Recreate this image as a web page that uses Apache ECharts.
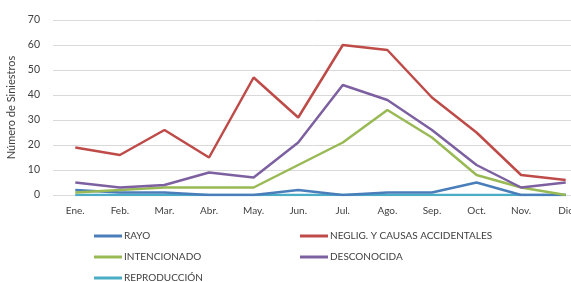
<!DOCTYPE html>
<html><head><meta charset="utf-8">
<script src="https://cdn.jsdelivr.net/npm/echarts@6/dist/echarts.min.js"></script>
<style>html,body{margin:0;padding:0;background:#fff}#c{width:571px;height:282px}</style>
</head><body><div id="c"></div>
<script>
const months = ['Ene.','Feb.','Mar.','Abr.','May.','Jun.','Jul.','Ago.','Sep.','Oct.','Nov.','Dic'];
const rayo = [2,1,1,0,0,2,0,1,1,5,0,0];
const neglig = [19,16,26,15,47,31,60,58,39,25,8,6];
const intencionado = [1,2,3,3,3,12,21,34,23,8,3,0];
const desconocida = [5,3,4,9,7,21,44,38,26,12,3,5];
const reproduccion = [0,0,0,0,0,0,0,0,0,0,0,0];
const yTicks = [0,10,20,30,40,50,60,70];

const font = 'Lato, "Open Sans", sans-serif';
const chart = echarts.init(document.getElementById('c'));
function s(name, data, color){
  return {name, type:'line', data, symbol:'none', lineStyle:{width:2.5,color}, itemStyle:{color}, animation:false};
}
const legendCommon = {orient:'vertical', itemWidth:28, itemHeight:3, itemGap:11, icon:'rect', height:70,
  textStyle:{fontFamily:font, fontSize:10, color:'#404040', padding:[0,0,0,-3]}, padding:0};
chart.setOption({
  animation:false,
  grid:{left:53, top:20, width:535, height:175, containLabel:false, outerBoundsMode:'none'},
  xAxis:{type:'category', data:months, boundaryGap:true,
    axisLine:{show:false}, axisTick:{show:false},
    axisLabel:{fontFamily:font, fontSize:10, color:'#404040', margin:11, interval:0}},
  yAxis:{type:'value', min:yTicks[0], max:yTicks[yTicks.length-1], interval:10,
    name:'Número de Siniestros', nameLocation:'middle', nameGap:29,
    nameTextStyle:{fontFamily:font, fontSize:11, color:'#404040'},
    axisLine:{show:false}, axisTick:{show:false},
    axisLabel:{fontFamily:font, fontSize:10.5, color:'#404040', margin:13},
    splitLine:{lineStyle:{color:'#D9D9D9', width:1}}},
  legend:[
    Object.assign({left:94, top:231, data:['RAYO','INTENCIONADO','REPRODUCCIÓN']}, legendCommon),
    Object.assign({left:300, top:231, data:['NEGLIG. Y CAUSAS ACCIDENTALES','DESCONOCIDA']}, legendCommon)
  ],
  series:[
    s('REPRODUCCIÓN', reproduccion, '#4BACC6'),
    s('RAYO', rayo, '#4A7EBB'),
    s('INTENCIONADO', intencionado, '#98B954'),
    s('DESCONOCIDA', desconocida, '#7D60A0'),
    s('NEGLIG. Y CAUSAS ACCIDENTALES', neglig, '#BE4B48')
  ]
});
</script></body></html>
